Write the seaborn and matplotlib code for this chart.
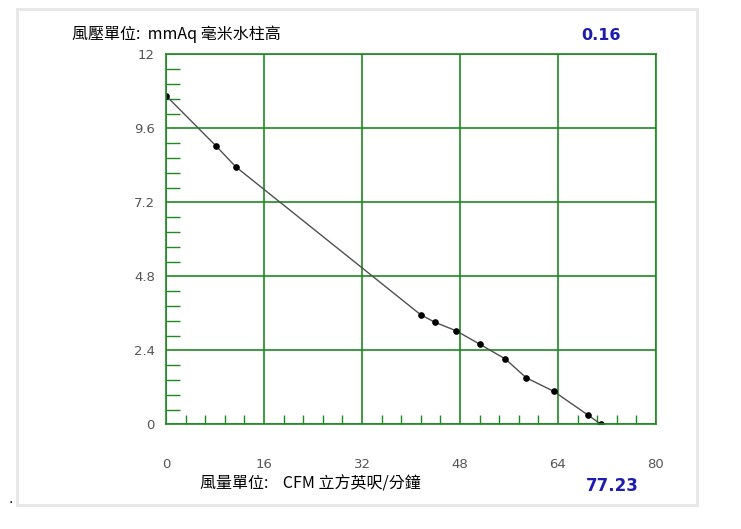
import matplotlib
matplotlib.use("Agg")
import matplotlib.pyplot as plt
import matplotlib.patches as patches
from matplotlib.ticker import MultipleLocator
import seaborn as sns
import pandas as pd

# fan curve
flow_cfm = [0.0, 8.2, 11.4, 41.6, 43.9, 47.4, 51.2, 55.4, 58.8, 63.3, 68.9, 71.0]
pressure_mmaq = [10.66, 9.02, 8.35, 3.55, 3.31, 3.03, 2.60, 2.12, 1.51, 1.07, 0.30, 0.0]

x_ticks = [0, 16, 32, 48, 64, 80]
y_ticks = [0, 2.4, 4.8, 7.2, 9.6, 12]
y_labels = ["0", "2.4", "4.8", "7.2", "9.6", "12"]

title_left = "風壓單位:  mmAq 毫米水柱高"
title_right = "0.16"
xlabel_text = "風量單位:    CFM 立方英呎/分鐘"
xlabel_value = "77.23"

sns.set_style("white")
plt.rcParams["font.family"] = ["DejaVu Sans", "Noto Sans CJK TC"]

green = "#1f8a1f"
grey = "#555555"
blue = "#1c1cb0"
cjk = ["Noto Sans CJK TC", "DejaVu Sans"]

df = pd.DataFrame({"flow": flow_cfm, "pressure": pressure_mmaq})

W, H = 741, 529
fig = plt.figure(figsize=(W / 100, H / 100), dpi=100)
ax = fig.add_axes([166 / W, (H - 424.3) / H, 490 / W, 370 / H])

sns.lineplot(data=df, x="flow", y="pressure", ax=ax, color="#505050", linewidth=1.0,
             marker="o", markersize=4, markerfacecolor="black", markeredgecolor="black")

ax.set_xlim(0, 80)
ax.set_ylim(0, 12)
ax.set_xticks(x_ticks)
ax.set_yticks(y_ticks)
ax.set_yticklabels(y_labels)
ax.xaxis.set_minor_locator(MultipleLocator(3.2))
ax.yaxis.set_minor_locator(MultipleLocator(0.48))
ax.tick_params(axis="both", which="major", length=0, colors=grey, labelsize=9.5)
ax.tick_params(axis="x", which="major", pad=24)
ax.tick_params(axis="y", which="major", pad=8)
ax.tick_params(axis="x", which="minor", bottom=True, direction="in", length=6.5,
               width=1.0, color=green)
ax.tick_params(axis="y", which="minor", left=True, direction="in", length=10,
               width=1.0, color=green)
ax.grid(True, which="major", color=green, linewidth=1.2)
for s in ax.spines.values():
    s.set_color(green)
    s.set_linewidth(1.2)
ax.set_xlabel("")
ax.set_ylabel("")

fig.text(72 / W, 1 - 34 / H, title_left, fontsize=11.5, color="black",
         family=cjk, va="center", ha="left")
fig.text(601 / W, 1 - 36 / H, title_right, fontsize=11.5, color=blue, fontweight="bold",
         va="center", ha="center")
fig.text(200 / W, 1 - 484 / H, xlabel_text, fontsize=11.5, color="black",
         family=cjk, va="center", ha="left")
fig.text(612 / W, 1 - 486 / H, xlabel_value, fontsize=12, color=blue, fontweight="bold",
         va="center", ha="center")

frame = patches.Rectangle((17 / W, 1 - 505 / H), 680 / W, 496 / H, transform=fig.transFigure,
                          fill=False, edgecolor="#e6e6e6", linewidth=2)
fig.patches.append(frame)
fig.text(8 / W, 1 - 503 / H, ".", fontsize=10, color="black")

fig.savefig("out.png", dpi=100)
